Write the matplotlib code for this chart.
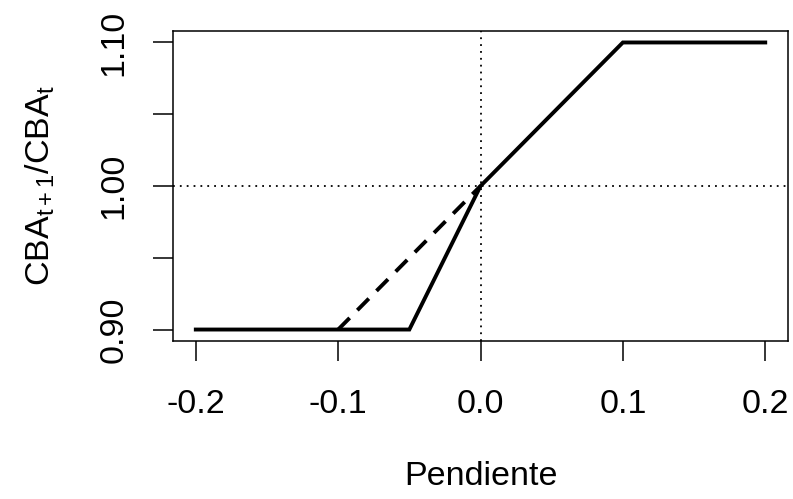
import matplotlib
matplotlib.use("Agg")
import matplotlib.pyplot as plt

plt.rcParams["font.family"] = ["Liberation Sans", "DejaVu Sans"]
plt.rcParams["mathtext.fontset"] = "custom"
plt.rcParams["mathtext.rm"] = "Liberation Sans"
plt.rcParams["mathtext.it"] = "Liberation Sans"
plt.rcParams["mathtext.default"] = "regular"

# Ratio of next-year CBA to current CBA as a function of the slope
pendiente = [-0.2, -0.05, 0.0, 0.1, 0.2]
ratio = [0.90, 0.90, 1.00, 1.10, 1.10]

# Alternative rule below zero (dashed)
pendiente_alt = [-0.1, 0.0]
ratio_alt = [0.90, 1.00]

x_ticks = [-0.2, -0.1, 0.0, 0.1, 0.2]
x_labels = ["-0.2", "-0.1", "0.0", "0.1", "0.2"]
y_ticks = [0.90, 0.95, 1.00, 1.05, 1.10]
y_labels = ["0.90", "", "1.00", "", "1.10"]

fig = plt.figure(figsize=(7.93, 4.99), dpi=100)
ax = fig.add_axes([0.2182, 0.3166, 0.7755, 0.6213])

ax.axvline(0.0, color="black", lw=1.3, ls=(0, (1, 2.8)))
ax.axhline(1.0, color="black", lw=1.3, ls=(0, (1, 2.8)))
ax.plot(pendiente_alt, ratio_alt, color="black", lw=2.8, ls=(0, (4.2, 2.8)),
        solid_capstyle="butt")
ax.plot(pendiente, ratio, color="black", lw=2.8, solid_joinstyle="miter")

ax.set_xlim(-0.216, 0.216)
ax.set_ylim(0.892, 1.108)
ax.set_xticks(x_ticks)
ax.set_xticklabels(x_labels)
ax.set_yticks(y_ticks)
ax.set_yticklabels(y_labels, rotation=90, va="center")

ax.tick_params(axis="both", direction="out", length=14.4, width=1.1,
               labelsize=24.5, colors="black")
ax.tick_params(axis="x", pad=20)
ax.tick_params(axis="y", pad=17)
for s in ax.spines.values():
    s.set_linewidth(1.1)

ax.set_xlabel("Pendiente", fontsize=24.5, labelpad=30)
ax.set_ylabel(r"CBA$_{t+1}$/CBA$_t$", fontsize=24.5, labelpad=30)

fig.savefig("out.png", dpi=100)
